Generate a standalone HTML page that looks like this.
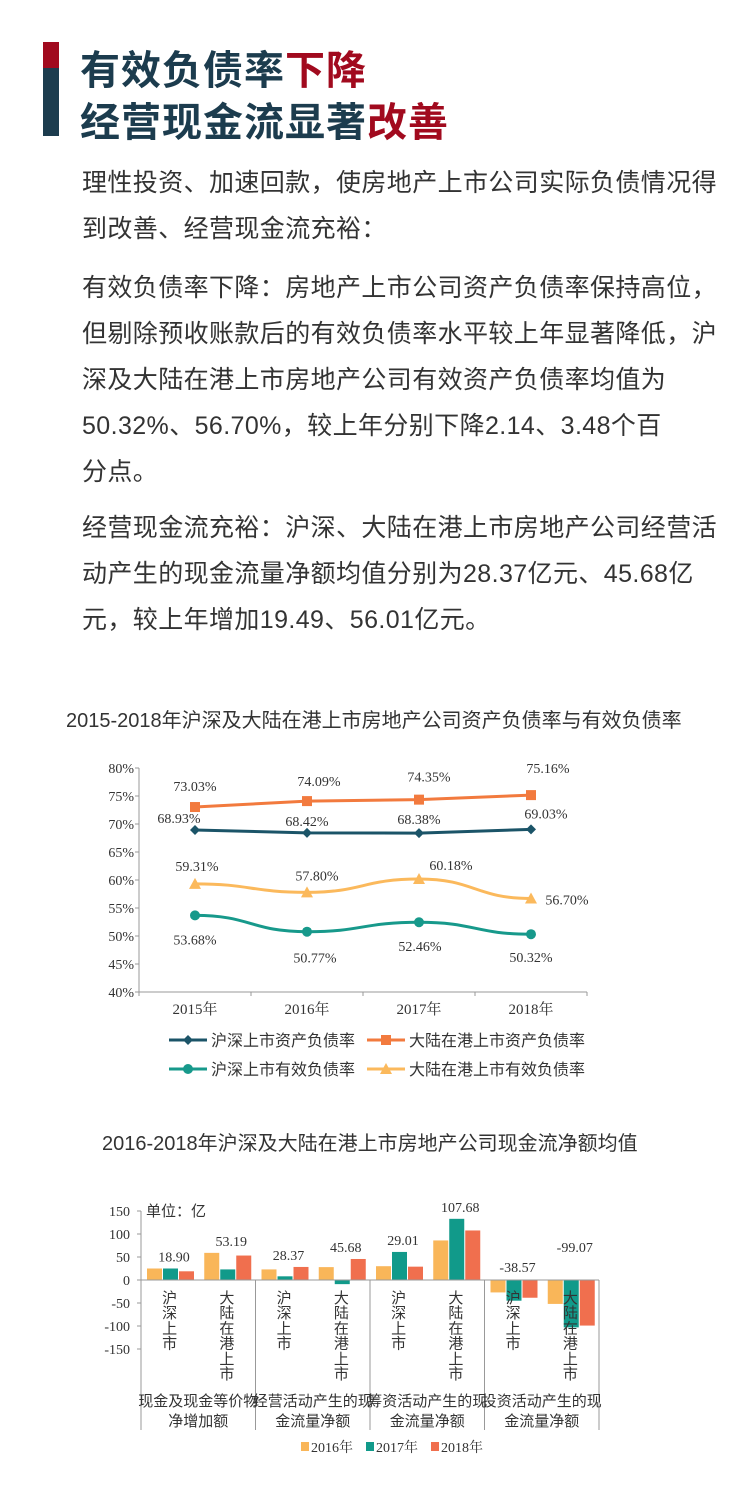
<!DOCTYPE html>
<html><head><meta charset="utf-8">
<style>
body{margin:0;width:750px;height:1500px;background:#fff;position:relative;overflow:hidden;font-family:"Liberation Sans","Noto Sans CJK SC",sans-serif;}
.abs{position:absolute;}
.title{left:80px;font-size:40px;font-weight:bold;color:#1c3c4e;white-space:nowrap;letter-spacing:1px}
.red{color:#a10a1e}
.p{left:82px;font-size:25px;color:#333;line-height:46px;letter-spacing:0.4px;white-space:nowrap}
.ct{font-size:20px;color:#333;white-space:nowrap;}
</style></head><body>
<div class="abs" style="left:43px;top:42px;width:16px;height:26px;background:#a10a1e"></div>
<div class="abs" style="left:43px;top:68px;width:16px;height:68px;background:#1c3c4e"></div>
<div class="abs title" style="top:38px">有效负债率<span class="red">下降</span></div>
<div class="abs title" style="top:90px">经营现金流显著<span class="red">改善</span></div>
<div class="abs p" style="top:160px">理性投资、加速回款，使房地产上市公司实际负债情况得<br>到改善、经营现金流充裕：</div>
<div class="abs p" style="top:265px">有效负债率下降：房地产上市公司资产负债率保持高位，<br>但剔除预收账款后的有效负债率水平较上年显著降低，沪<br>深及大陆在港上市房地产公司有效资产负债率均值为<br>50.32%、56.70%，较上年分别下降2.14、3.48个百<br>分点。</div>
<div class="abs p" style="top:505px">经营现金流充裕：沪深、大陆在港上市房地产公司经营活<br>动产生的现金流量净额均值分别为28.37亿元、45.68亿<br>元，较上年增加19.49、56.01亿元。</div>
<div class="abs ct" style="left:66px;top:704px">2015-2018年沪深及大陆在港上市房地产公司资产负债率与有效负债率</div>
<div class="abs ct" style="left:102px;top:1127px">2016-2018年沪深及大陆在港上市房地产公司现金流净额均值</div>
<svg class="abs" style="left:0;top:0" width="750" height="1500" id="svg"></svg>
<script>
const years=["2015年","2016年","2017年","2018年"];
const hsDebt=[68.93,68.42,68.38,69.03];
const hkDebt=[73.03,74.09,74.35,75.16];
const hsEff=[53.68,50.77,52.46,50.32];
const hkEff=[59.31,57.80,60.18,56.70];
const yTicks=[40,45,50,55,60,65,70,75,80];

const groups=["现金及现金等价物|净增加额","经营活动产生的现|金流量净额","筹资活动产生的现|金流量净额","投资活动产生的现|金流量净额"];
const subCats=["沪深上市","大陆在港上市"];
const v2016=[25,59,23,28,30,86,-27,-52];
const v2017=[25,23,8,-9,61,133,-45,-103];
const v2018=[18.90,53.19,28.37,45.68,29.01,107.68,-38.57,-99.07];
const barTicks=[150,100,50,0,-50,-100,-150];

const NS="http://www.w3.org/2000/svg";
const svg=document.getElementById('svg');
function mk(t,a,txt){const e=document.createElementNS(NS,t);for(const k in a)e.setAttribute(k,a[k]);if(txt!=null)e.textContent=txt;svg.appendChild(e);return e;}
const serif='"Liberation Serif","Noto Serif CJK SC",serif';
const sans='"Liberation Sans","Noto Sans CJK SC",sans-serif';
// line chart
const L={x0:139,x1:587,yTop:768,yBot:992};
const ly=v=>L.yBot-(v-40)/40*(L.yBot-L.yTop);
const lx=i=>L.x0+(i+0.5)*(L.x1-L.x0)/4;
let e;
e=mk('line',{x1:L.x0,y1:L.yTop,x2:L.x0,y2:L.yBot,stroke:'#999'});

e=mk('line',{x1:L.x0,y1:L.yBot,x2:L.x1,y2:L.yBot,stroke:'#999'});

yTicks.forEach(t=>{e=mk('text',{x:134,y:ly(t)+5,'text-anchor':'end','font-size':14,'font-family':serif,fill:'#333'},t+'%');

mk('line',{x1:L.x0-4,y1:ly(t),x2:L.x0,y2:ly(t),stroke:'#999'});});
for(let i=0;i<=4;i++)mk('line',{x1:L.x0+i*112,y1:L.yBot,x2:L.x0+i*112,y2:L.yBot+4,stroke:'#999'});
years.forEach((y,i)=>{e=mk('text',{x:lx(i),y:1014,'text-anchor':'middle','font-size':15,'font-family':serif,fill:'#333'},y);
});
function path(vals,smooth){let d='M'+lx(0)+','+ly(vals[0]);for(let i=1;i<vals.length;i++){if(smooth){const cx=(lx(i-1)+lx(i))/2;d+=' C'+cx+','+ly(vals[i-1])+' '+cx+','+ly(vals[i])+' '+lx(i)+','+ly(vals[i]);}else d+=' L'+lx(i)+','+ly(vals[i]);}return d;}
function marker(type,x,y,c){if(type=='d')return mk('path',{d:`M${x},${y-5}L${x+5},${y}L${x},${y+5}L${x-5},${y}Z`,fill:c});
if(type=='s')return mk('rect',{x:x-5,y:y-5,width:10,height:10,fill:c});
if(type=='c')return mk('circle',{cx:x,cy:y,r:5,fill:c});
return mk('path',{d:`M${x},${y-6}L${x+6},${y+5}L${x-6},${y+5}Z`,fill:c});}
const series=[
 {v:hsDebt,c:'#1b5468',m:'d',n:'hs-debt',off:[[-16,-7],[0,-7],[0,-9],[15,-11]],sm:false},
 {v:hkDebt,c:'#f27a3e',m:'s',n:'hk-debt',off:[[0,-16],[12,-15],[10,-18],[17,-22]],sm:false},
 {v:hsEff,c:'#17998b',m:'c',n:'hs-eff',off:[[0,29],[8,31],[1,29],[0,28]],sm:true},
 {v:hkEff,c:'#fbb95c',m:'t',n:'hk-eff',off:[[2,-13],[10,-12],[32,-9],[36,6]],sm:true}];
series.forEach(s=>{e=mk('path',{d:path(s.v,s.sm),fill:'none',stroke:s.c,'stroke-width':3});

s.v.forEach((v,i)=>{e=marker(s.m,lx(i),ly(v),s.c);
e=mk('text',{x:lx(i)+s.off[i][0],y:ly(v)+s.off[i][1],'text-anchor':'middle','font-size':14,'font-family':serif,fill:'#333'},v.toFixed(2)+'%');
});});
const leg=[[0,167,1040,'沪深上市资产负债率'],[1,365,1040,'大陆在港上市资产负债率'],[2,167,1069,'沪深上市有效负债率'],[3,365,1069,'大陆在港上市有效负债率']];
leg.forEach(l=>{const s=series[l[0]];mk('line',{x1:l[1]+2,y1:l[2],x2:l[1]+40,y2:l[2],stroke:s.c,'stroke-width':3});
marker(s.m,l[1]+21,l[2],s.c);e=mk('text',{x:l[1]+44,y:l[2]+6,'font-size':16,'font-family':sans,fill:'#333'},l[3]);
});
// bar chart
const B={x0:141,x1:599,y0:1280,perUnit:23/50};
const by=v=>B.y0-v*B.perUnit;
const sw=(B.x1-B.x0)/8;
e=mk('line',{x1:B.x0,y1:by(150),x2:B.x0,y2:1430,stroke:'#999'});

barTicks.forEach(t=>{e=mk('text',{x:130,y:by(t)+5,'text-anchor':'end','font-size':14,'font-family':serif,fill:'#333'},t);

mk('line',{x1:B.x0-4,y1:by(t),x2:B.x0,y2:by(t),stroke:'#999'});});
const bcol=['#f9b659','#119a8a','#f06f4e'];const bser=[v2016,v2017,v2018];
for(let i=0;i<8;i++){bser.forEach((arr,k)=>{const v=arr[i];const x=B.x0+i*sw+6+k*16;
e=mk('rect',{x:x,y:Math.min(by(v),B.y0),width:15,height:Math.abs(by(v)-B.y0),fill:bcol[k]});
});
const v=v2018[i];const x=B.x0+i*sw+6+2*16+7;
const top=Math.max(v2016[i],v2017[i],v2018[i],0);
e=mk('text',{x:x-12,y:v>=0?by(top)-7:B.y0-8-(i==7?20:0),'text-anchor':'middle','font-size':14,'font-family':serif,fill:'#333'},v.toFixed(2));

const cx=B.x0+(i+0.5)*sw;const chars=subCats[i%2].split('');
chars.forEach((ch,j)=>{e=mk('text',{x:cx,y:1303+j*15.2,'text-anchor':'middle','font-size':15,'font-family':sans,fill:'#333'},ch);
});}
e=mk('line',{x1:B.x0,y1:B.y0,x2:B.x1,y2:B.y0,stroke:'#999'});

for(let g=1;g<=4;g++)mk('line',{x1:B.x0+g*2*sw,y1:B.y0,x2:B.x0+g*2*sw,y2:1430,stroke:'#999'});
groups.forEach((gname,g)=>{const p=gname.split('|');const cx=B.x0+(g+0.5)*2*sw;
e=mk('text',{x:cx,y:1406,'text-anchor':'middle','font-size':15,'font-family':sans,fill:'#333'},p[0]);
e=mk('text',{x:cx,y:1426,'text-anchor':'middle','font-size':15,'font-family':sans,fill:'#333'},p[1]);});
e=mk('text',{x:146,y:1216,'font-size':15,'font-family':sans,fill:'#333'},'单位：亿');

['2016年','2017年','2018年'].forEach((t,k)=>{const x=301+k*65;mk('rect',{x:x,y:1442,width:8,height:9,fill:bcol[k]});
e=mk('text',{x:x+10,y:1452,'font-size':14,'font-family':serif,fill:'#333'},t);
});
</script>
</body></html>
